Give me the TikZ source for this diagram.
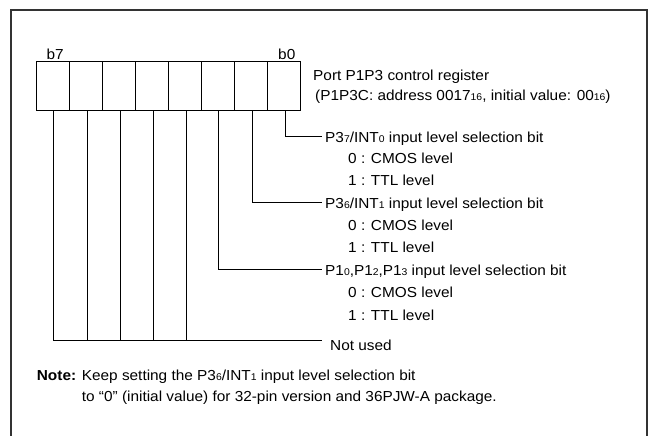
\documentclass[tikz,border=0pt]{standalone}
\usepackage{fontspec}
\setmainfont[FakeStretch=1.06]{Liberation Sans}
\newcommand\lsub[1]{{\fontsize{9.8bp}{9.8bp}\selectfont #1}}
\begin{document}
\begin{tikzpicture}[x=1bp,y=-1bp,
  cell/.style={draw, line width=1bp, minimum width=32.9bp, minimum height=48.7bp, inner sep=0pt, outer sep=0pt},
  lbl/.style={anchor=base west, inner sep=0pt, font=\fontsize{14.5bp}{16bp}\selectfont},
  wire/.style={line width=1bp},
  frame/.style={line width=2.2bp, draw=black!80}]
\useasboundingbox (0,0) rectangle (648,436);
\draw[frame] (11,436) -- (11,10) -- (647,10) -- (647,436);
% register cells
\foreach \i in {0,...,7}{
  \node[cell] (c\i) at ({300-32.9*(\i+0.5)},86.35) {};
}
\node[lbl] (b7) at (46.5,60) {b7};
\node[lbl] (b0) at (278,60) {b0};
\node[lbl] (title) at (313,80.5) {Port P1P3 control register};
\node[lbl] (addr) at (315,101) {(P1P3C: address 0017\lsub{16}, initial value: 00\lsub{16})};
% end points
\coordinate (e0) at (322,137);
\coordinate (e1) at (322,203);
\coordinate (e2) at (322,270);
\coordinate (e7) at (322,340);
\draw[wire] ([xshift=2bp]c0.south) |- (e0);
\draw[wire] ([xshift=1.5bp]c1.south) |- (e1);
\draw[wire] ([xshift=1bp]c2.south) |- (e2);
\draw[wire] (c7.south) |- (e7);
\draw[wire] ([xshift=1bp]c6.south) -- ([xshift=1bp]c6.south |- e7);
\draw[wire] ([xshift=1bp]c5.south) -- ([xshift=1bp]c5.south |- e7);
\draw[wire] ([xshift=2bp]c4.south) -- ([xshift=2bp]c4.south |- e7);
\draw[wire] ([xshift=2bp]c3.south) -- ([xshift=2bp]c3.south |- e7);
% descriptions
\node[lbl] (t0) at (325,142.5) {P3\lsub{7}/INT\lsub{0} input level selection bit};
\node[lbl] (t0a) at (348,164) {0 : CMOS level};
\node[lbl] (t0b) at (348,185.5) {1 : TTL level};
\node[lbl] (t1) at (325,208.5) {P3\lsub{6}/INT\lsub{1} input level selection bit};
\node[lbl] (t1a) at (348,230.5) {0 : CMOS level};
\node[lbl] (t1b) at (348,252.5) {1 : TTL level};
\node[lbl] (t2) at (325,275.5) {P1\lsub{0},P1\lsub{2},P1\lsub{3} input level selection bit};
\node[lbl] (t2a) at (348,297.5) {0 : CMOS level};
\node[lbl] (t2b) at (348,320.5) {1 : TTL level};
\node[lbl] (t7) at (330,350) {Not used};
% note
\node[lbl] (note1) at (36.7,380.5) {\textbf{Note:} Keep setting the P3\lsub{6}/INT\lsub{1} input level selection bit};
\node[lbl] (note2) at (81.7,401.5) {to “0” (initial value) for 32-pin version and 36PJW-A package.};
\end{tikzpicture}
\end{document}
